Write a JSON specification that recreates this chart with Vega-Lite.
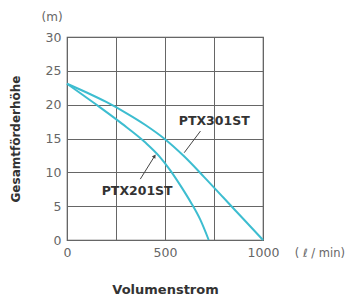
{
  "$schema": "https://vega.github.io/schema/vega-lite/v6.json",
  "width": 196,
  "height": 203,
  "autosize": "none",
  "padding": {"left": 67, "top": 37, "right": 86, "bottom": 57},
  "background": "white",
  "config": {
    "view": {"stroke": "#555", "strokeWidth": 1.2},
    "font": "DejaVu Sans"
  },
  "datasets": {
    "curves": [
      {"pump": "PTX301ST", "q": 0, "h": 23.1},
      {"pump": "PTX301ST", "q": 100, "h": 21.8},
      {"pump": "PTX301ST", "q": 200, "h": 20.4},
      {"pump": "PTX301ST", "q": 300, "h": 18.8},
      {"pump": "PTX301ST", "q": 400, "h": 17.0},
      {"pump": "PTX301ST", "q": 500, "h": 14.9},
      {"pump": "PTX301ST", "q": 600, "h": 12.3},
      {"pump": "PTX301ST", "q": 700, "h": 9.3},
      {"pump": "PTX301ST", "q": 800, "h": 6.2},
      {"pump": "PTX301ST", "q": 900, "h": 3.1},
      {"pump": "PTX301ST", "q": 1000, "h": 0},
      {"pump": "PTX201ST", "q": 0, "h": 23.1},
      {"pump": "PTX201ST", "q": 140, "h": 20.2},
      {"pump": "PTX201ST", "q": 280, "h": 17.2},
      {"pump": "PTX201ST", "q": 400, "h": 14.4},
      {"pump": "PTX201ST", "q": 470, "h": 12.4},
      {"pump": "PTX201ST", "q": 527, "h": 10.3},
      {"pump": "PTX201ST", "q": 580, "h": 8.0},
      {"pump": "PTX201ST", "q": 635, "h": 5.4},
      {"pump": "PTX201ST", "q": 680, "h": 3.0},
      {"pump": "PTX201ST", "q": 723, "h": 0}
    ],
    "leaders": [
      {"pump": "PTX301ST", "q": 681, "h": 16.1, "q2": 598, "h2": 12.9},
      {"pump": "PTX201ST", "q": 374, "h": 9.0, "q2": 447, "h2": 12.4}
    ],
    "arrow": [
      {"pump": "PTX201ST", "q": 447, "h": 12.4}
    ],
    "labels": [
      {"kind": "series", "text": "PTX301ST", "q": 751, "h": 17.6, "align": "center"},
      {"kind": "series", "text": "PTX201ST", "q": 358, "h": 7.2, "align": "center"},
      {"kind": "unit", "text": "(m)", "q": -76, "h": 32.9, "align": "center"},
      {"kind": "unit", "text": "( ℓ / min)", "q": 1162, "h": -2, "align": "left"}
    ]
  },
  "encoding": {
    "x": {
      "field": "q", "type": "quantitative",
      "scale": {"domain": [0, 1000], "nice": false},
      "axis": {
        "values": [0, 250, 500, 750, 1000],
        "format": "d",
        "labelExpr": "datum.value % 500 == 0 ? datum.label : ''",
        "grid": true, "gridColor": "#666", "gridWidth": 1,
        "ticks": false, "domain": false,
        "labelColor": "#666", "labelFontSize": 12.5, "labelPadding": 6,
        "labelFont": "DejaVu Sans", "labelFlush": false, "labelOverlap": false,
        "title": "Volumenstrom", "titleFontSize": 13, "titleFontWeight": "bold",
        "titleColor": "#333", "titleY": 49, "titleBaseline": "middle"
      }
    },
    "y": {
      "field": "h", "type": "quantitative",
      "scale": {"domain": [0, 30], "nice": false},
      "axis": {
        "values": [0, 5, 10, 15, 20, 25, 30],
        "grid": true, "gridColor": "#666", "gridWidth": 1,
        "ticks": false, "domain": false, "labelOverlap": false,
        "labelColor": "#666", "labelFontSize": 12.5, "labelPadding": 6,
        "labelFont": "DejaVu Sans", "labelFlush": false,
        "title": "Gesamtförderhöhe", "titleFontSize": 12, "titleFontWeight": "bold",
        "titleColor": "#333", "titleX": -52, "titleY": 101.5, "titleBaseline": "middle", "titleAngle": -90
      }
    }
  },
  "layer": [
    {
      "data": {"name": "curves"},
      "mark": {"type": "line", "color": "#3dbdd0", "strokeWidth": 2, "interpolate": "monotone"},
      "encoding": {
        "detail": {"field": "pump"}
      }
    },
    {
      "data": {"name": "leaders"},
      "mark": {"type": "rule", "color": "#444", "strokeWidth": 1},
      "encoding": {
        "x2": {"field": "q2"},
        "y2": {"field": "h2"}
      }
    },
    {
      "data": {"name": "arrow"},
      "mark": {"type": "point", "shape": "triangle-up", "filled": true, "color": "#444", "size": 18, "angle": 35, "opacity": 1},
      "encoding": {}
    },
    {
      "data": {"name": "labels"},
      "transform": [{"filter": "datum.kind == 'series'"}],
      "mark": {"type": "text", "font": "DejaVu Sans", "fontWeight": "bold", "fontSize": 12.5, "color": "#333", "align": "center", "baseline": "middle"},
      "encoding": {
        "text": {"field": "text"}
      }
    },
    {
      "data": {"name": "labels"},
      "transform": [{"filter": "datum.kind == 'unit' && datum.align == 'center'"}],
      "mark": {"type": "text", "font": "DejaVu Sans", "fontSize": 12, "color": "#666", "align": "center", "baseline": "middle"},
      "encoding": {
        "text": {"field": "text"}
      }
    },
    {
      "data": {"name": "labels"},
      "transform": [{"filter": "datum.kind == 'unit' && datum.align == 'left'"}],
      "mark": {"type": "text", "font": "DejaVu Sans", "fontSize": 11.5, "color": "#666", "align": "left", "baseline": "middle"},
      "encoding": {
        "text": {"field": "text"}
      }
    }
  ]
}
